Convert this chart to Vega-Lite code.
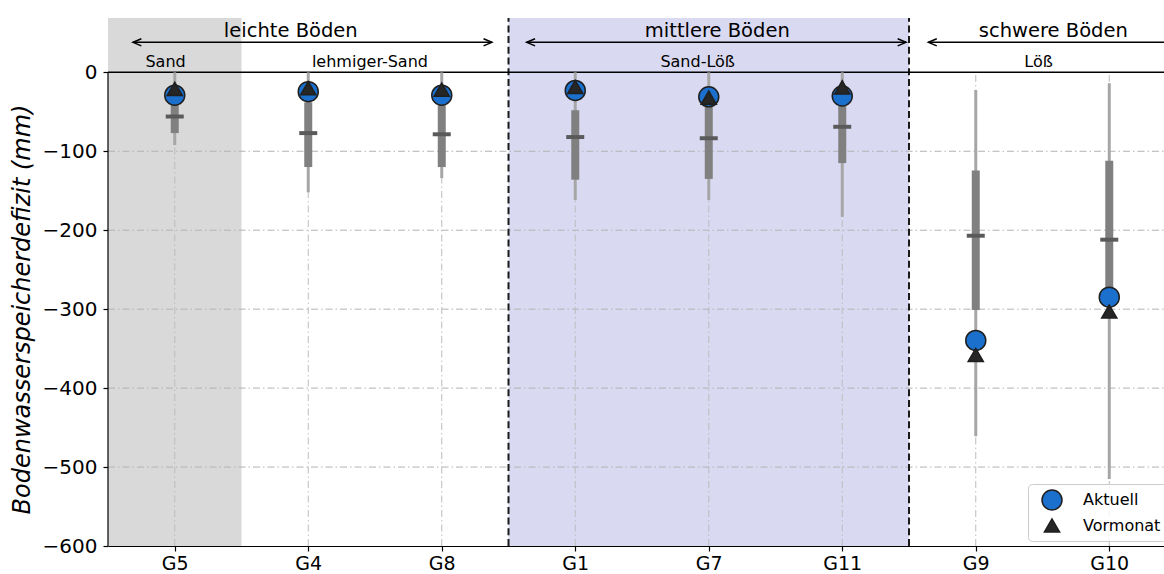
{
  "$schema": "https://vega.github.io/schema/vega-lite/v6.json",
  "width": 1056,
  "height": 528,
  "autosize": {"type": "none"},
  "padding": {"left": 108, "top": 18, "right": 0, "bottom": 28},
  "background": "white",
  "config": {"view": {"stroke": null}, "font": "DejaVu Sans"},
  "resolve": {"axis": {"x": "independent", "y": "independent"}},
  "datasets": {
    "groups": [
      {"g": "G5", "idx": 0, "wmax": 0, "wmin": -92, "qhi": -40, "qlo": -77, "med": -56},
      {"g": "G4", "idx": 1, "wmax": 0, "wmin": -152, "qhi": -38, "qlo": -120, "med": -77},
      {"g": "G8", "idx": 2, "wmax": 0, "wmin": -134, "qhi": -38, "qlo": -120, "med": -78.5},
      {"g": "G1", "idx": 3, "wmax": 0, "wmin": -162, "qhi": -48, "qlo": -136, "med": -82},
      {"g": "G7", "idx": 4, "wmax": 0, "wmin": -162, "qhi": -42, "qlo": -135, "med": -83.5},
      {"g": "G11", "idx": 5, "wmax": 0, "wmin": -183, "qhi": -40, "qlo": -115, "med": -69},
      {"g": "G9", "idx": 6, "wmax": -22.5, "wmin": -461, "qhi": -124.5, "qlo": -301, "med": -207},
      {"g": "G10", "idx": 7, "wmax": -14, "wmin": -515, "qhi": -112, "qlo": -290, "med": -212}
    ],
    "points": [
      {"g": "G5", "idx": 0, "series": "Aktuell", "val": -29},
      {"g": "G4", "idx": 1, "series": "Aktuell", "val": -24.5},
      {"g": "G8", "idx": 2, "series": "Aktuell", "val": -29},
      {"g": "G1", "idx": 3, "series": "Aktuell", "val": -23},
      {"g": "G7", "idx": 4, "series": "Aktuell", "val": -31},
      {"g": "G11", "idx": 5, "series": "Aktuell", "val": -30},
      {"g": "G9", "idx": 6, "series": "Aktuell", "val": -339.6},
      {"g": "G10", "idx": 7, "series": "Aktuell", "val": -284.8},
      {"g": "G5", "idx": 0, "series": "Vormonat", "val": -21},
      {"g": "G4", "idx": 1, "series": "Vormonat", "val": -20},
      {"g": "G8", "idx": 2, "series": "Vormonat", "val": -22},
      {"g": "G1", "idx": 3, "series": "Vormonat", "val": -18.6},
      {"g": "G7", "idx": 4, "series": "Vormonat", "val": -32},
      {"g": "G11", "idx": 5, "series": "Vormonat", "val": -19},
      {"g": "G9", "idx": 6, "series": "Vormonat", "val": -358},
      {"g": "G10", "idx": 7, "series": "Vormonat", "val": -303}
    ],
    "hgrid": [{"v": -100}, {"v": -200}, {"v": -300}, {"v": -400}, {"v": -500}],
    "seps": [{"x": 2.5}, {"x": 5.5}],
    "toplabels": [
      {"x": 0.869, "y": 44.4, "t": "leichte Böden"},
      {"x": 4.064, "y": 44.4, "t": "mittlere Böden"},
      {"x": 6.581, "y": 44.4, "t": "schwere Böden"}
    ],
    "sublabels": [
      {"x": -0.069, "y": 6.3, "t": "Sand"},
      {"x": 1.462, "y": 6.3, "t": "lehmiger-Sand"},
      {"x": 3.917, "y": 6.3, "t": "Sand-Löß"},
      {"x": 6.47, "y": 6.3, "t": "Löß"}
    ],
    "arrows": [
      {"x1": -0.313, "x2": 2.376, "y": 38},
      {"x1": 2.636, "x2": 5.478, "y": 38},
      {"x1": 5.645, "x2": 7.41, "y": 38}
    ],
    "leftheads": [
      {"x": -0.313, "y": 38},
      {"x": 2.636, "y": 38},
      {"x": 5.645, "y": 38}
    ],
    "rightheads": [
      {"x": 2.376, "y": 38},
      {"x": 5.478, "y": 38}
    ]
  },
  "layer": [
    {
      "data": {"values": [{"x1": -0.5, "x2": 0.5}]},
      "mark": {"type": "rect", "color": "#d9d9d9"},
      "encoding": {
        "x": {"field": "x1", "type": "quantitative", "axis": null, "scale": {"domain": [-0.5, 7.41], "nice": false, "zero": false}},
        "x2": {"field": "x2"},
        "y": {"datum": -600, "type": "quantitative", "axis": null, "scale": {"domain": [-600, 68.8], "nice": false, "zero": false}},
        "y2": {"datum": 68.8}
      }
    },
    {
      "data": {"values": [{"x1": 2.5, "x2": 5.5}]},
      "mark": {"type": "rect", "color": "#d9d9f2"},
      "encoding": {
        "x": {"field": "x1", "type": "quantitative", "axis": null},
        "x2": {"field": "x2"},
        "y": {"datum": -600, "type": "quantitative", "axis": null},
        "y2": {"datum": 68.8}
      }
    },
    {
      "data": {"name": "hgrid"},
      "mark": {"type": "rule", "color": "#b3b3b3", "strokeWidth": 1, "strokeDash": [7, 3, 1.5, 3]},
      "encoding": {
        "y": {"field": "v", "type": "quantitative", "axis": null},
        "x": {"datum": -0.5, "type": "quantitative", "axis": null},
        "x2": {"datum": 7.41}
      }
    },
    {
      "data": {"name": "groups"},
      "mark": {"type": "rule", "color": "#bdbdbd", "strokeWidth": 1, "strokeDash": [7, 3, 1.5, 3]},
      "encoding": {
        "x": {"field": "idx", "type": "quantitative", "axis": null},
        "y": {"datum": -600, "type": "quantitative", "axis": null},
        "y2": {"datum": 0}
      }
    },
    {
      "data": {"name": "seps"},
      "mark": {"type": "rule", "color": "#1a1a1a", "strokeWidth": 2, "strokeDash": [7, 3.7]},
      "encoding": {
        "x": {"field": "x", "type": "quantitative", "axis": null},
        "y": {"datum": -600, "type": "quantitative", "axis": null},
        "y2": {"datum": 68.8}
      }
    },
    {
      "data": {"values": [{}]},
      "mark": {"type": "rule", "color": "black", "strokeWidth": 1.5},
      "encoding": {
        "y": {"datum": 0, "type": "quantitative", "axis": null},
        "x": {"datum": -0.5, "type": "quantitative", "axis": null},
        "x2": {"datum": 7.41}
      }
    },
    {
      "data": {"values": [{}]},
      "mark": {"type": "rule", "color": "black", "strokeWidth": 1.2},
      "encoding": {
        "x": {"datum": -0.5, "type": "quantitative", "axis": null},
        "y": {"datum": -600, "type": "quantitative", "axis": null},
        "y2": {"datum": 0}
      }
    },
    {
      "data": {"name": "groups"},
      "mark": {"type": "rule", "color": "#a6a6a6", "strokeWidth": 3},
      "encoding": {
        "x": {
          "field": "idx", "type": "quantitative",
          "axis": {
            "title": null, "values": [0, 1, 2, 3, 4, 5, 6, 7],
            "labelExpr": "['G5','G4','G8','G1','G7','G11','G9','G10'][datum.value]",
            "grid": false, "domainColor": "black", "domainWidth": 1.2,
            "tickColor": "black", "tickSize": 5, "tickWidth": 1.2,
            "labelFontSize": 19, "labelColor": "black", "labelPadding": 18, "labelBaseline": "alphabetic",
            "labelFont": "DejaVu Sans"
          }
        },
        "y": {
          "field": "wmin", "type": "quantitative",
          "axis": {
            "title": "Bodenwasserspeicherdefizit (mm)",
            "values": [-600, -500, -400, -300, -200, -100, 0],
            "grid": false, "domain": false,
            "tickColor": "black", "tickSize": 5, "tickWidth": 1.2,
            "labelFontSize": 20, "labelColor": "black", "labelPadding": 6, "labelFont": "DejaVu Sans",
            "titleFontSize": 24, "titleFontStyle": "italic", "titleFontWeight": "normal", "titleColor": "black",
            "titleFont": "DejaVu Sans", "titleX": -86, "titleY": 291, "titleAngle": 270,
            "titleAlign": "center", "titleBaseline": "middle"
          }
        },
        "y2": {"field": "wmax"}
      }
    },
    {
      "data": {"name": "groups"},
      "mark": {"type": "rule", "color": "#808080", "strokeWidth": 8},
      "encoding": {
        "x": {"field": "idx", "type": "quantitative", "axis": null},
        "y": {"field": "qlo", "type": "quantitative", "axis": null},
        "y2": {"field": "qhi"}
      }
    },
    {
      "data": {"name": "groups"},
      "mark": {"type": "point", "shape": "M-1,-0.22H1V0.22H-1Z", "size": 324, "filled": true, "color": "#5a5a5a", "opacity": 1, "strokeWidth": 0},
      "encoding": {
        "x": {"field": "idx", "type": "quantitative", "axis": null},
        "y": {"field": "med", "type": "quantitative", "axis": null}
      }
    },
    {
      "data": {"name": "points"},
      "mark": {"type": "point", "filled": true, "opacity": 1, "stroke": "#1f1f1f", "strokeWidth": 1.5},
      "encoding": {
        "x": {"field": "idx", "type": "quantitative", "axis": null},
        "y": {"field": "val", "type": "quantitative", "axis": null},
        "color": {
          "field": "series", "type": "nominal",
          "scale": {"domain": ["Aktuell", "Vormonat"], "range": ["#1b6fcd", "#262626"]},
          "legend": {
            "title": null, "orient": "none", "legendX": 920, "legendY": 466,
            "labelFontSize": 16, "labelFont": "DejaVu Sans", "labelColor": "black",
            "fillColor": "rgba(255,255,255,0.8)", "strokeColor": "#cccccc", "cornerRadius": 4,
            "padding": 5, "symbolOffset": 8, "labelOffset": 20, "rowPadding": 2,
            "symbolStrokeColor": "#1f1f1f", "symbolStrokeWidth": 1.5
          }
        },
        "shape": {
          "field": "series", "type": "nominal",
          "scale": {"domain": ["Aktuell", "Vormonat"], "range": ["circle", "triangle-up"]}
        },
        "size": {
          "field": "series", "type": "nominal",
          "scale": {"domain": ["Aktuell", "Vormonat"], "range": [400, 230]}
        }
      }
    },
    {
      "data": {"name": "arrows"},
      "mark": {"type": "rule", "color": "black", "strokeWidth": 1.5},
      "encoding": {
        "x": {"field": "x1", "type": "quantitative", "axis": null},
        "x2": {"field": "x2"},
        "y": {"field": "y", "type": "quantitative", "axis": null}
      }
    },
    {
      "data": {"name": "leftheads"},
      "mark": {"type": "point", "shape": "M1.4,-0.6L0,0L1.4,0.6", "filled": false, "stroke": "black", "strokeWidth": 1.5, "size": 144, "opacity": 1},
      "encoding": {
        "x": {"field": "x", "type": "quantitative", "axis": null},
        "y": {"field": "y", "type": "quantitative", "axis": null}
      }
    },
    {
      "data": {"name": "rightheads"},
      "mark": {"type": "point", "shape": "M-1.4,-0.6L0,0L-1.4,0.6", "filled": false, "stroke": "black", "strokeWidth": 1.5, "size": 144, "opacity": 1},
      "encoding": {
        "x": {"field": "x", "type": "quantitative", "axis": null},
        "y": {"field": "y", "type": "quantitative", "axis": null}
      }
    },
    {
      "data": {"name": "toplabels"},
      "mark": {"type": "text", "fontSize": 19.5, "font": "DejaVu Sans", "color": "black", "align": "center", "baseline": "alphabetic"},
      "encoding": {
        "x": {"field": "x", "type": "quantitative", "axis": null},
        "y": {"field": "y", "type": "quantitative", "axis": null},
        "text": {"field": "t"}
      }
    },
    {
      "data": {"name": "sublabels"},
      "mark": {"type": "text", "fontSize": 16, "font": "DejaVu Sans", "color": "black", "align": "center", "baseline": "alphabetic"},
      "encoding": {
        "x": {"field": "x", "type": "quantitative", "axis": null},
        "y": {"field": "y", "type": "quantitative", "axis": null},
        "text": {"field": "t"}
      }
    }
  ]
}
